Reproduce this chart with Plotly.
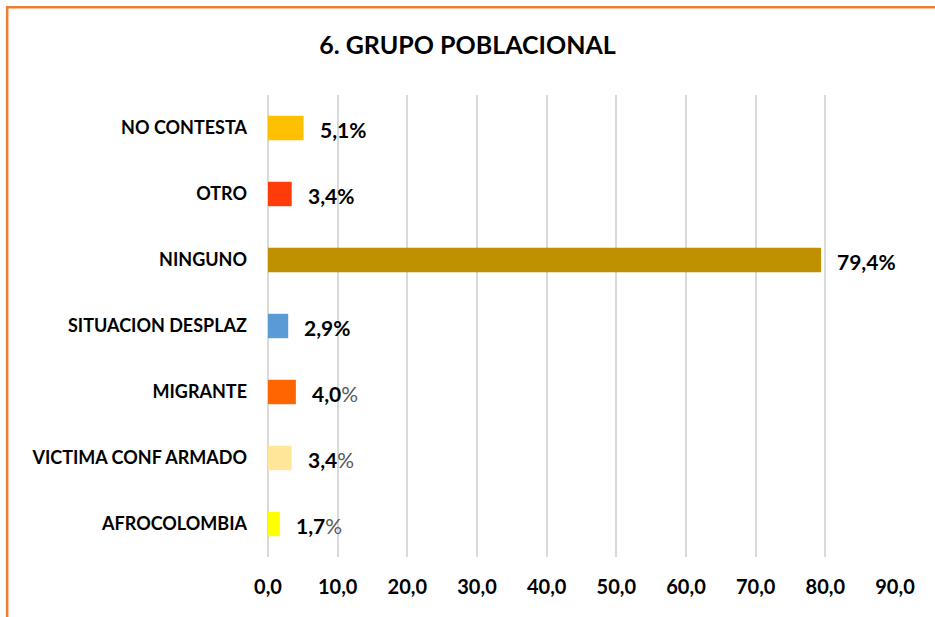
import plotly.graph_objects as go

categories = ["NO CONTESTA", "OTRO", "NINGUNO", "SITUACION DESPLAZ", "MIGRANTE",
              "VICTIMA CONF ARMADO", "AFROCOLOMBIA"]
values = [5.1, 3.4, 79.4, 2.9, 4.0, 3.4, 1.7]
colors = ["#FFC000", "#FF3B0A", "#BF9000", "#5B9BD5", "#FF6600", "#FFE699", "#FFFF00"]
gray_pct = [False, False, False, False, True, True, True]
xticks = [0, 10, 20, 30, 40, 50, 60, 70, 80, 90]
xticklabels = ["0,0", "10,0", "20,0", "30,0", "40,0", "50,0", "60,0", "70,0", "80,0", "90,0"]

FONT = "Lato"

fig = go.Figure(go.Bar(
    x=values, y=categories, orientation="h",
    marker=dict(color=colors, line=dict(width=0)),
    width=0.37, hoverinfo="skip",
))

for cat, v, g in zip(categories, values, gray_pct):
    num = f"{v:.1f}".replace(".", ",")
    if g:
        txt = f"<b>{num}</b><span style='color:#595959'>%</span>"
    else:
        txt = f"<b>{num}%</b>"
    fig.add_annotation(x=v, y=cat, text=txt, showarrow=False, xanchor="left",
                       xshift=14, yshift=-1,
                       font=dict(family=FONT, size=21, color="#000000"))

# orange chart frame
fig.add_shape(type="rect", xref="paper", yref="paper",
              x0=-0.416, x1=1.3, y0=-0.3, y1=1.19,
              line=dict(color="#ED7D31", width=2.5), layer="below")

fig.update_layout(
    width=935, height=617,
    margin=dict(l=268, r=40, t=95, b=60, autoexpand=False),
    paper_bgcolor="white", plot_bgcolor="white",
    showlegend=False,
    title=dict(text="<b>6. GRUPO POBLACIONAL</b>", x=0.5, xanchor="center",
               y=0.927, yanchor="middle",
               font=dict(family=FONT, size=25, color="#000000")),
    xaxis=dict(range=[0, 90], tickvals=xticks, ticktext=[f"<b>{t}</b>" for t in xticklabels],
               showgrid=True, gridcolor="#D9D9D9", gridwidth=1.5,
               zeroline=True, zerolinecolor="#D9D9D9", zerolinewidth=1.5,
               showline=False, ticks="", ticklabelstandoff=16, automargin=False,
               tickfont=dict(family=FONT, size=20, color="#000000"),
               fixedrange=True),
    yaxis=dict(autorange="reversed", showgrid=False, showline=False, ticks="",
               ticklabelstandoff=20, automargin=False,
               tickfont=dict(family=FONT, size=18, color="#000000"),
               tickprefix="<b>", ticksuffix="</b>", fixedrange=True),
)

fig.write_html("out.html", config={"displayModeBar": False},
               post_script="document.body.style.margin='0';document.body.style.overflow='hidden';")
